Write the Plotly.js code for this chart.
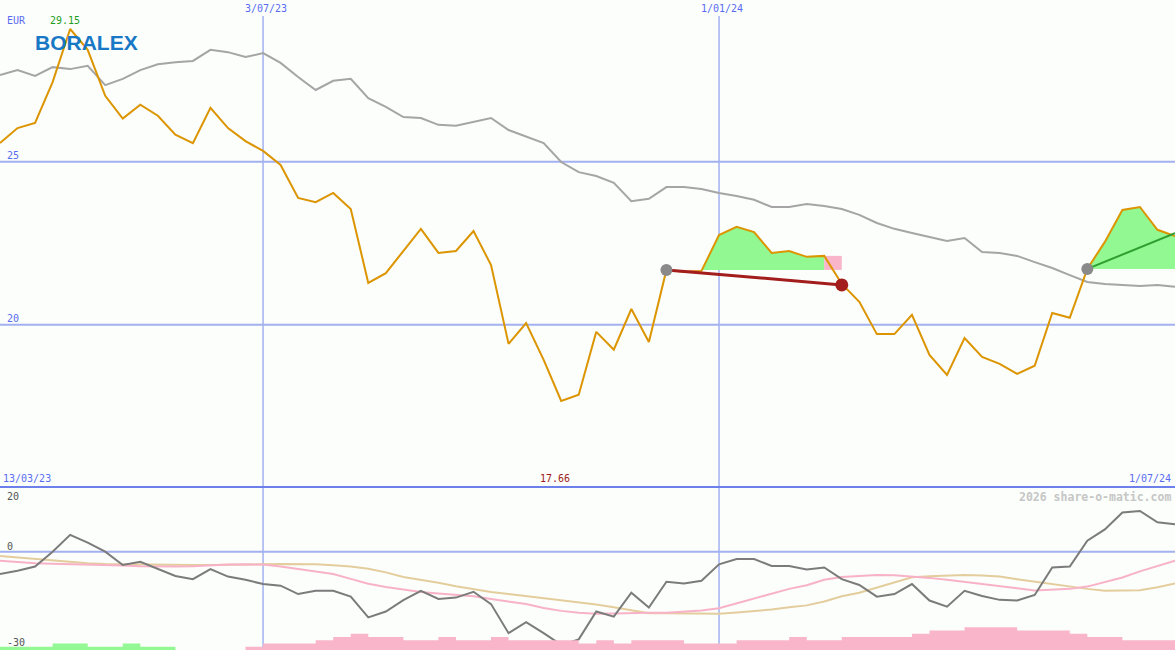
<!DOCTYPE html>
<html>
<head>
<meta charset="utf-8">
<script src="https://cdn.plot.ly/plotly-3.0.1.min.js"></script>
<style>
html,body{margin:0;padding:0;background:#fbfefb;}
#chart{width:1175px;height:650px;}
</style>
</head>
<body>
<div id="chart"></div>
<script>
// ---------- DATA ----------
const dates = ["2023-03-20","2023-03-27","2023-04-03","2023-04-10","2023-04-17","2023-04-24","2023-05-01","2023-05-08","2023-05-15","2023-05-22","2023-05-29","2023-06-05","2023-06-12","2023-06-19","2023-06-26","2023-07-03","2023-07-10","2023-07-17","2023-07-24","2023-07-31","2023-08-07","2023-08-14","2023-08-21","2023-08-28","2023-09-04","2023-09-11","2023-09-18","2023-09-25","2023-10-02","2023-10-09","2023-10-16","2023-10-23","2023-10-30","2023-11-06","2023-11-13","2023-11-20","2023-11-27","2023-12-04","2023-12-11","2023-12-18","2023-12-25","2024-01-01","2024-01-08","2024-01-15","2024-01-22","2024-01-29","2024-02-05","2024-02-12","2024-02-19","2024-02-26","2024-03-04","2024-03-11","2024-03-18","2024-03-25","2024-04-01","2024-04-08","2024-04-15","2024-04-22","2024-04-29","2024-05-06","2024-05-13","2024-05-20","2024-05-27","2024-06-03","2024-06-10","2024-06-17","2024-06-24","2024-07-01"];

const price = [25.57,26.03,26.19,27.44,29.07,28.43,27.02,26.32,26.75,26.41,
  25.83,25.57,26.65,26.03,25.63,25.33,24.90,23.89,23.76,24.04,
  23.55,21.28,21.58,22.26,22.94,22.20,22.26,22.87,21.83,19.41,
  20.05,18.92,17.66,17.85,19.78,19.23,20.48,19.47,21.68,21.62,
  21.65,22.75,23.00,22.84,22.20,22.26,22.08,22.11,21.25,20.70,
  19.71,19.71,20.30,19.07,18.46,19.59,19.01,18.80,18.49,18.74,
  20.36,20.21,21.71,22.54,23.52,23.61,22.91,22.72];

const movingAvg = [27.66,27.81,27.63,27.90,27.84,27.94,27.35,27.54,27.81,27.99,
  28.05,28.09,28.43,28.36,28.21,28.33,28.03,27.60,27.20,27.48,
  27.54,26.95,26.68,26.37,26.34,26.13,26.10,26.22,26.34,25.97,
  25.76,25.57,24.99,24.68,24.56,24.35,23.79,23.86,24.22,24.22,
  24.16,24.04,23.95,23.83,23.61,23.61,23.70,23.64,23.55,23.37,
  23.12,22.94,22.81,22.69,22.57,22.66,22.23,22.20,22.11,21.92,
  21.74,21.52,21.31,21.25,21.22,21.19,21.22,21.16];

const osc = [-6.9,-5.9,-4.6,0,5.2,2.8,0,-4.1,-3.1,-5.4,
  -7.5,-8.5,-5.4,-7.7,-8.7,-10.0,-10.5,-13.1,-12.1,-12.1,
  -13.9,-20.3,-18.5,-15.0,-12.1,-14.6,-14.2,-12.4,-16.2,-25.2,
  -21.8,-25.2,-28.8,-27.1,-18.5,-20.1,-12.7,-17.3,-9.3,-9.8,
  -9.0,-3.9,-2.3,-2.3,-4.4,-4.4,-5.5,-4.9,-8.5,-10.3,
  -13.9,-13.1,-10.0,-15.1,-17.0,-12.1,-13.7,-14.9,-15.1,-13.4,
  -4.9,-4.6,3.4,6.9,12.1,12.6,9.1,8.5];

const oscFast = [-2.8,-3.3,-3.6,-3.7,-3.8,-4.0,-4.2,-4.3,-4.5,-4.6,
  -4.6,-4.5,-4.2,-4.0,-3.9,-4.0,-4.6,-5.3,-6.1,-6.9,
  -8.4,-9.9,-10.9,-11.7,-12.5,-12.9,-13.3,-13.8,-14.6,-15.5,
  -16.2,-17.4,-18.3,-18.9,-19.2,-19.1,-18.9,-18.9,-18.9,-18.5,
  -18.2,-17.5,-16.0,-14.5,-12.9,-11.5,-10.4,-8.7,-7.8,-7.5,
  -7.2,-7.3,-7.6,-8.1,-8.7,-9.3,-10.0,-10.6,-11.3,-12.0,
  -11.8,-11.5,-10.8,-9.5,-8.0,-6.1,-4.4,-2.8];

const oscSlow = [-1.3,-1.8,-2.3,-2.7,-3.2,-3.6,-3.8,-3.9,-4.0,-4.1,
  -4.1,-4.1,-4.1,-4.1,-4.0,-3.9,-3.8,-3.8,-3.9,-4.2,
  -4.6,-5.3,-6.4,-7.8,-8.6,-9.6,-10.7,-11.7,-12.5,-13.1,
  -13.7,-14.3,-14.9,-15.6,-16.3,-17.2,-18.2,-19.0,-19.0,-19.0,
  -19.1,-19.2,-18.8,-18.4,-17.9,-17.2,-16.6,-15.4,-13.8,-12.7,
  -11.1,-9.4,-7.9,-7.6,-7.4,-7.2,-7.4,-7.7,-8.5,-9.3,
  -10.1,-10.9,-11.5,-12.1,-12.1,-11.9,-11.0,-9.8];

const upBars = [1,1,1,2,2,1,1,2,1,1,
  0,0,0,0,0,0,0,0,0,0,
  0,0,0,0,0,0,0,0,0,0,
  0,0,0,0,0,0,0,0,0,0,
  0,0,0,0,0,0,0,0,0,0,
  0,0,0,0,0,0,0,0,0,0,
  0,0,0,0,0,0,0,0];
const downBars = [0,0,0,0,0,0,0,0,0,0,
  0,0,0,0,1,2,2,2,3,4,
  5,4,4,3,3,4,3,3,4,3,
  3,3,3,2,3,2,3,3,3,2,
  2,2,3,3,3,4,3,3,4,4,
  4,4,5,6,6,7,7,7,6,6,
  6,5,4,4,3,3,3,3];

const tradeEntryDate  = ["2023-12-11","2024-05-27"];
const tradeEntryPrice = [21.68, 21.71];
const tradeExitDate   = ["2024-02-19","2024-07-01"];
const tradeExitPrice  = [21.22, 22.81];
const tradeClosed     = [true, false];

const priceGrid = [25, 20];
const priceGridLabels = ["25", "20"];
const oscGrid = [0];
const oscLabels = ["20", "0", "-30"];
const oscLabelLevels = [20, 0, -30];
const dateLines = ["2023-07-03","2024-01-01"];
const dateLineLabels = ["3/07/23","1/01/24"];
const startLabel = "13/03/23";
const endLabel = "1/07/24";
const highLabel = "29.15";
const lowLabel = "17.66";
const currency = "EUR";

// ---------- GEOMETRY / STYLE ----------
const W = 1175, H = 650;
const splitY = (650 - 487) / 650; // lower-panel height fraction
const gridCol = "#a3b1f1";
const textBlue = "#5a6cf2";
const mono = "DejaVu Sans Mono, monospace";

const traces = [];

// bottom bars (step)
traces.push({x: dates, y: upBars, yaxis: "y3", type: "scatter", mode: "lines",
  line: {shape: "hv", width: 0, color: "#94f894"}, fill: "tozeroy", fillcolor: "#94f894", hoverinfo: "skip"});
traces.push({x: dates, y: downBars, yaxis: "y3", type: "scatter", mode: "lines",
  line: {shape: "hv", width: 0, color: "#f9b5c9"}, fill: "tozeroy", fillcolor: "#f9b5c9", hoverinfo: "skip"});

// oscillator lines
traces.push({x: dates, y: oscSlow, yaxis: "y2", type: "scatter", mode: "lines", line: {color: "#e4cd9d", width: 2}});
traces.push({x: dates, y: oscFast, yaxis: "y2", type: "scatter", mode: "lines", line: {color: "#f8b2c7", width: 2}});
traces.push({x: dates, y: osc, yaxis: "y2", type: "scatter", mode: "lines", line: {color: "#7b7b7b", width: 2}});

// trade fills built from price series
for (let t = 0; t < tradeEntryDate.length; t++) {
  const s = dates.indexOf(tradeEntryDate[t]);
  const e = dates.indexOf(tradeExitDate[t]);
  const lvl = tradeEntryPrice[t];
  // gain runs
  let k = s + 1;
  while (k <= e) {
    if (price[k] > lvl) {
      const run = [];
      while (k <= e && price[k] > lvl) { run.push(k); k++; }
      const first = run[0], last = run[run.length - 1];
      const xs = [dates[first - 1]], ys = [lvl];
      run.forEach(i => { xs.push(dates[i]); ys.push(price[i]); });
      xs.push(dates[last]); ys.push(lvl);
      traces.push({x: xs, y: ys, type: "scatter", mode: "lines", fill: "toself",
        fillcolor: "#92f892", line: {width: 0, color: "#92f892"}, hoverinfo: "skip"});
    } else k++;
  }
  // loss steps
  for (let i = s; i < e; i++) {
    if (price[i + 1] < lvl) {
      const other = price[i] > lvl ? price[i] : price[i + 1];
      traces.push({x: [dates[i], dates[i + 1], dates[i + 1], dates[i], dates[i]],
        y: [lvl, lvl, other, other, lvl], type: "scatter", mode: "lines", fill: "toself",
        fillcolor: "#f9b5c9", line: {width: 0, color: "#f9b5c9"}, hoverinfo: "skip"});
    }
  }
}

// moving average and price
traces.push({x: dates, y: movingAvg, type: "scatter", mode: "lines", line: {color: "#a5a5a5", width: 2}});
traces.push({x: dates, y: price, type: "scatter", mode: "lines", line: {color: "#dc9500", width: 2}});

// trade lines & markers
for (let t = 0; t < tradeEntryDate.length; t++) {
  const col = tradeClosed[t] ? "#a31d1d" : "#2e9e2e";
  traces.push({x: [tradeEntryDate[t], tradeExitDate[t]], y: [tradeEntryPrice[t], tradeExitPrice[t]],
    type: "scatter", mode: "lines", line: {color: col, width: tradeClosed[t] ? 3 : 2}});
  traces.push({x: [tradeEntryDate[t]], y: [tradeEntryPrice[t]], type: "scatter", mode: "markers",
    marker: {color: "#8a8a8a", size: 12}});
  if (tradeClosed[t]) {
    traces.push({x: [tradeExitDate[t]], y: [tradeExitPrice[t]], type: "scatter", mode: "markers",
      marker: {color: "#a31d1d", size: 13}});
  }
}

// ---------- SHAPES ----------
const shapes = [];
priceGrid.forEach(v => shapes.push({type: "line", xref: "paper", yref: "y", x0: 0, x1: 1, y0: v, y1: v,
  line: {color: gridCol, width: 2}, layer: "below"}));
oscGrid.forEach(v => shapes.push({type: "line", xref: "paper", yref: "y2", x0: 0, x1: 1, y0: v, y1: v,
  line: {color: gridCol, width: 2}, layer: "below"}));
dateLines.forEach(d => shapes.push({type: "line", xref: "x", yref: "paper", x0: d, x1: d, y0: 0, y1: 1 - 16 / H,
  line: {color: gridCol, width: 1.5}, layer: "below"}));
shapes.push({type: "line", xref: "paper", yref: "paper", x0: 0, x1: 1, y0: splitY, y1: splitY,
  line: {color: "#6d7fea", width: 2}, layer: "above"});

// ---------- ANNOTATIONS ----------
const ann = [];
function txt(text, px, py, anchor, color, size, extra) {
  ann.push(Object.assign({text: text, xref: "paper", yref: "paper", x: px / W, y: 1 - py / H,
    xanchor: anchor, yanchor: "middle", showarrow: false,
    font: {family: mono, size: size || 10, color: color}}, extra || {}));
}
txt(currency, 5, 20.5, "left", textBlue);
txt(highLabel, 65, 20.5, "center", "#1e9e1e");
priceGrid.forEach((v, i) => ann.push({text: priceGridLabels[i], xref: "paper", yref: "y", x: 5 / W, y: v,
  xanchor: "left", yanchor: "bottom", yshift: -1, showarrow: false, font: {family: mono, size: 10, color: textBlue}}));
dateLines.forEach((d, i) => ann.push({text: dateLineLabels[i], xref: "x", yref: "paper", x: d, y: 1 - 9 / H,
  xanchor: "center", yanchor: "middle", xshift: 3, showarrow: false, font: {family: mono, size: 10, color: textBlue}}));
txt(startLabel, 1, 478.5, "left", textBlue);
txt(lowLabel, 555, 478.5, "center", "#a01a1a");
txt(endLabel, 1173, 478.5, "right", textBlue);
txt("2026 share-o-matic.com", 1173, 496.5, "right", "#c6c6c6", 11.5, {});
ann[ann.length - 1].text = "<b>2026 share-o-matic.com</b>";
const oscLabelPx = [496.5, 546.5, 642.5];
oscLabels.forEach((s, i) => txt(s, 5, oscLabelPx[i], "left", "#555555"));
// logo
ann.push({text: "<b>BORALEX</b>", xref: "paper", yref: "paper", x: 86 / W, y: 1 - 43 / H,
  xanchor: "center", yanchor: "middle", showarrow: false,
  font: {family: "Liberation Sans, Arial, sans-serif", size: 21, color: "#1878c6"}});

const layout = {
  width: W, height: H, autosize: false,
  margin: {l: 0, r: 0, t: 0, b: 0, pad: 0},
  paper_bgcolor: "#fbfefb", plot_bgcolor: "#fbfefb",
  showlegend: false, hovermode: false,
  xaxis: {range: [dates[0], dates[dates.length - 1]], visible: false, fixedrange: true},
  yaxis: {domain: [splitY, 1], range: [15.02, 29.96], visible: false},
  yaxis2: {domain: [0, splitY], range: [-30.4, 20], visible: false, anchor: "x"},
  yaxis3: {overlaying: "y2", range: [0, 50.4], visible: false, anchor: "x"},
  shapes: shapes,
  annotations: ann
};

Plotly.newPlot("chart", traces, layout, {staticPlot: true, displayModeBar: false});
</script>
</body>
</html>
